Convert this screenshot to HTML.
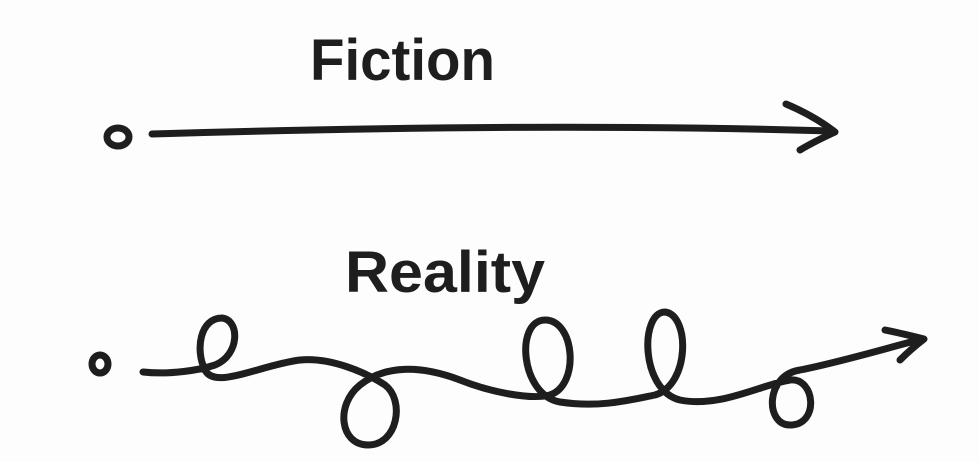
<!DOCTYPE html>
<html>
<head>
<meta charset="utf-8">
<style>
  html,body{margin:0;padding:0;background:#fff;}
  body{width:979px;height:462px;overflow:hidden;}
  svg{display:block;}
  text{font-family:"Liberation Sans",sans-serif;fill:#1e1e1e;}
</style>
</head>
<body>
<svg width="979" height="462" viewBox="0 0 979 462">
  <rect x="0" y="0" width="979" height="462" fill="#fdfdfd"/>

  <text x="310" y="80" font-size="58" font-weight="bold" textLength="185" lengthAdjust="spacingAndGlyphs">Fiction</text>
  <g fill="none" stroke="#1e1e1e" stroke-width="7" stroke-linecap="round" stroke-linejoin="round">
    <ellipse cx="118" cy="137" rx="11" ry="9"/>
    <path d="M152,134 C350,128 600,124 832,131"/>
    <path d="M786,104 C805,112 822,122 835,132 C822,138 810,144 800,150"/>
  </g>

  <text x="345" y="292" font-size="58" font-weight="bold" textLength="200" lengthAdjust="spacingAndGlyphs">Reality</text>
  <g fill="none" stroke="#1e1e1e" stroke-width="7" stroke-linecap="round" stroke-linejoin="round">
    <ellipse cx="100" cy="364" rx="8" ry="9"/>
    <path d="M143,372 C170,375 200,370 215,365
             C240,355 240,320 222,318 C200,318 195,350 205,370
             C215,390 260,365 300,360
             C330,357 365,372 385,385 C405,400 398,445 368,445 C340,445 335,405 360,385
             C385,365 420,365 460,380
             C490,392 530,400 550,395 C580,385 575,320 545,320 C515,320 520,395 560,402
             C600,408 630,400 655,395 C690,385 690,315 665,312 C640,312 640,390 680,400
             C720,408 760,385 790,380 C815,377 820,425 790,425 C765,425 765,375 800,370
             C840,362 880,350 922,339"/>
    <path d="M885,330 C900,333 912,336 924,339 C915,346 907,353 900,360"/>
  </g>
</svg>
</body>
</html>
